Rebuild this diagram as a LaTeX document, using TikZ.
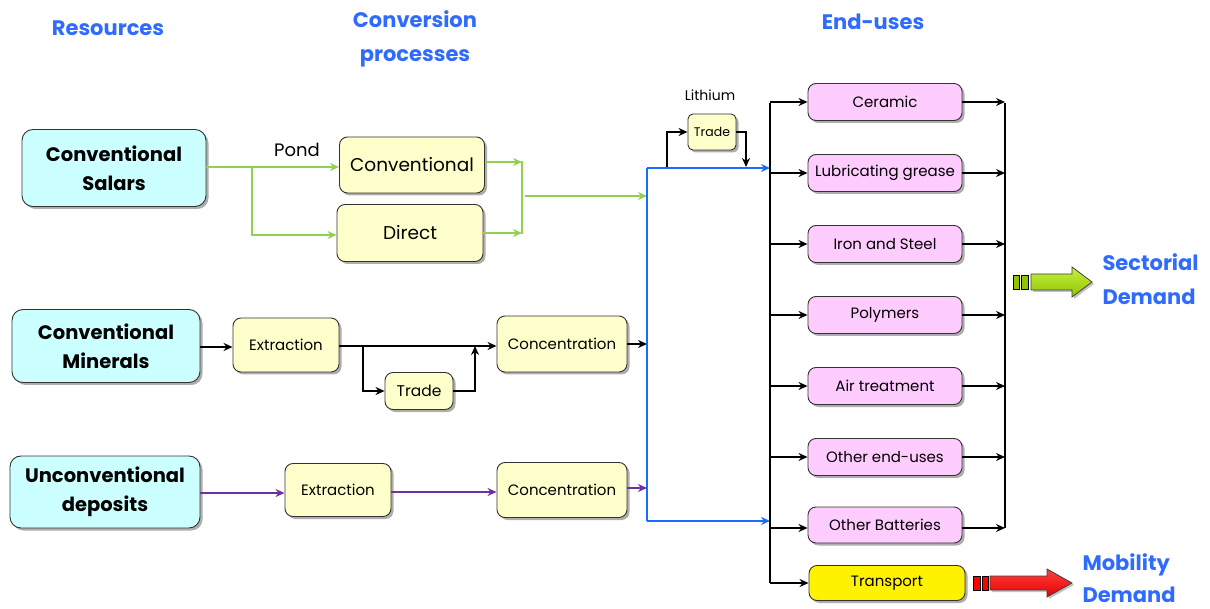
\documentclass[tikz,border=0pt]{standalone}
\usepackage{fontspec}
\setmainfont{Poppins}
\usetikzlibrary{shadows,arrows.meta}
\definecolor{hblue}{HTML}{2F6BFF}
\definecolor{rescyan}{HTML}{CCFFFF}
\definecolor{procyel}{HTML}{FFFFCC}
\definecolor{endpink}{HTML}{FFCCFF}
\definecolor{lgreen}{HTML}{92D050}
\definecolor{lpurple}{HTML}{7030A0}
\definecolor{lblue}{HTML}{1A6CFF}
\definecolor{agreen}{HTML}{8FC400}
\definecolor{agreenl}{HTML}{C8F040}
\begin{document}
\begin{tikzpicture}[x=1pt,y=-1pt,
  box/.style={draw=black!80, line width=0.9pt, rounded corners=8pt, inner sep=0pt, align=center,
    drop shadow={shadow xshift=2.5pt, shadow yshift=-2.5pt, fill=black!45, opacity=0.7}},
  res/.style={box, fill=rescyan, rounded corners=11pt, font=\fontsize{19.5}{29}\selectfont\bfseries},
  proc/.style={box, fill=procyel},
  enduse/.style={box, fill=endpink, font=\fontsize{15}{17}\selectfont},
  head/.style={text=hblue, font=\fontsize{21}{34}\selectfont\bfseries, align=center},
  tip/.style={-{Stealth[length=9pt,width=8pt]}},
  bl/.style={line width=2pt, black, tip},
  gl/.style={line width=2pt, lgreen, tip},
  pl/.style={line width=2pt, lpurple, tip},
  ul/.style={line width=2pt, lblue, tip},
  plain/.style={line width=2pt},
  stripe/.style={draw=black, line width=0.8pt},
  blockarrow/.style={draw=black!75, line width=0.8pt,
    drop shadow={shadow xshift=2pt, shadow yshift=-2pt, fill=black!40, opacity=0.6}},
]
\useasboundingbox (0,0) rectangle (1210,609);

% headers
\node[head] (hres) at (108,28) {Resources};
\node[head] (hconv) at (415,39) {Conversion\\processes};
\node[head] (hend) at (873,22) {End-uses};

% resources
\node[res, minimum width=184pt, minimum height=77pt] (salars) at (114,168) {Conventional\\Salars};
\node[res, minimum width=188pt, minimum height=73pt] (minerals) at (106,346) {Conventional\\Minerals};
\node[res, minimum width=190pt, minimum height=72pt] (unconv) at (105,492) {Unconventional\\deposits};

% conversion processes
\node[proc, minimum width=145pt, minimum height=56pt, font=\fontsize{18.5}{22}\selectfont] (conv) at (412,165) {Conventional};
\node[proc, minimum width=146pt, minimum height=57pt, font=\fontsize{18.5}{22}\selectfont] (direct) at (410,233) {Direct};
\node[font=\fontsize{18}{20}\selectfont] (pond) at (297,150) {Pond};

\node[proc, minimum width=106pt, minimum height=54pt, font=\fontsize{15}{18}\selectfont] (extr1) at (286,345) {Extraction};
\node[proc, minimum width=68pt, minimum height=37pt, font=\fontsize{15.5}{18}\selectfont] (trade1) at (419,391) {Trade};
\node[proc, minimum width=130pt, minimum height=56pt, font=\fontsize{15}{18}\selectfont] (conc1) at (562,344) {Concentration};

\node[proc, minimum width=106pt, minimum height=53pt, font=\fontsize{15}{18}\selectfont] (extr2) at (338,490) {Extraction};
\node[proc, minimum width=130pt, minimum height=55pt, font=\fontsize{15}{18}\selectfont] (conc2) at (562,490) {Concentration};

% lithium trade
\node[font=\fontsize{14}{16}\selectfont] (lith) at (710,95) {Lithium};
\node[proc, rounded corners=5pt, minimum width=48pt, minimum height=36pt, font=\fontsize{12.5}{14}\selectfont] (trade2) at (712,132) {Trade};

% end uses
\node[enduse, minimum width=154pt, minimum height=37pt] (ceramic) at (885,102) {Ceramic};
\node[enduse, minimum width=154pt, minimum height=37pt] (lub) at (885,173) {Lubricating grease};
\node[enduse, minimum width=154pt, minimum height=37pt] (iron) at (885,244) {Iron and Steel};
\node[enduse, minimum width=154pt, minimum height=37pt] (poly) at (885,315) {Polymers};
\node[enduse, minimum width=154pt, minimum height=37pt] (air) at (885,386) {Air treatment};
\node[enduse, minimum width=154pt, minimum height=37pt] (other) at (885,457) {Other end-uses};
\node[enduse, minimum width=154pt, minimum height=36pt] (batt) at (885,525) {Other Batteries};
\node[box, fill=yellow, minimum width=156pt, minimum height=35pt, font=\fontsize{15}{17}\selectfont] (transp) at (887,583) {Transport};

% demand labels
\node[head, align=left, anchor=west] (sect) at (1099,279) {Sectorial\\Demand};
\node[head, align=left, anchor=west, font=\fontsize{21}{32}\selectfont\bfseries] (mob) at (1079,578) {Mobility\\Demand};

% big arrows
\draw[blockarrow, top color=agreenl, bottom color=agreen]
  (1031,274) -- (1072,274) -- (1072,267) -- (1092,282) -- (1072,297) -- (1072,290) -- (1031,290) -- cycle;
\draw[stripe, fill=agreen] (1013,275) rectangle (1019,289);
\draw[stripe, fill=agreen] (1021,275) rectangle (1028,289);
\draw[blockarrow, top color=red!75, bottom color=red!90!black]
  (990,576) -- (1047,576) -- (1047,569) -- (1072,583) -- (1047,597) -- (1047,590) -- (990,590) -- cycle;
\draw[stripe, fill=red] (973,576) rectangle (980,590);
\draw[stripe, fill=red] (982,576) rectangle (988,590);

% ---- connectors: salars
\coordinate (gsplit) at (252,167);
\draw[gl] (salars.east |- gsplit) -- (conv.west |- gsplit);
\draw[gl] (gsplit) |- (direct.west |- 0,235);
\coordinate (gmerge) at (522,196);
\draw[gl] (conv.east |- 0,162) -- (gmerge |- 0,162);
\draw[gl] (direct.east |- 0,233) -- (gmerge |- 0,233);
\draw[plain, lgreen] (gmerge |- 0,161) -- (gmerge |- 0,234);
\coordinate (bustop) at (647,168);
\coordinate (busbot) at (647,521);
\coordinate (lbus) at (770,168);
\draw[gl] (525,196) -- (bustop |- gmerge);

% minerals
\draw[bl] (minerals.east |- 0,347) -- (extr1.west |- 0,347);
\draw[bl] (extr1.east |- 0,346) -- (conc1.west |- 0,346);
\coordinate (tsplit) at (363,346);
\coordinate (tjoin) at (475,346);
\draw[bl] (tsplit) |- (trade1.west);
\draw[bl] (trade1.east) -| (tjoin);
\draw[bl] (conc1.east) -- (bustop |- conc1.east);

% unconventional
\draw[pl] (unconv.east |- 0,493) -- (extr2.west |- 0,493);
\draw[pl] (extr2.east |- 0,492) -- (conc2.west |- 0,492);
\draw[pl] (conc2.east |- 0,488) -- (bustop |- 0,488);

% blue bus
\draw[plain, lblue] (bustop) -- (busbot);
\draw[ul] (bustop) -- (lbus);
\draw[ul] (busbot) -- (lbus |- busbot);

% lithium trade loop
\draw[bl] (667,167) |- (trade2.west);
\draw[bl] (trade2.east) -| (746,167);

% end-use left bus
\draw[plain] (770,103) -- (770,583);
\foreach \n in {ceramic,lub,iron,poly,air,other} {
  \draw[bl] (770,0 |- \n.west) -- (\n.west);
}
\draw[bl] (770,528) -- (batt.west |- 0,528);
\draw[bl] (770,583) -- (transp.west);

% end-use right bus
\coordinate (rbus) at (1005,103);
\draw[plain] (1005,103) -- (1005,528);
\foreach \n in {ceramic,lub,iron,poly,air,other} {
  \draw[bl] (\n.east) -- (rbus |- \n.east);
}
\draw[bl] (batt.east |- 0,528) -- (rbus |- 0,528);
\end{tikzpicture}
\end{document}
